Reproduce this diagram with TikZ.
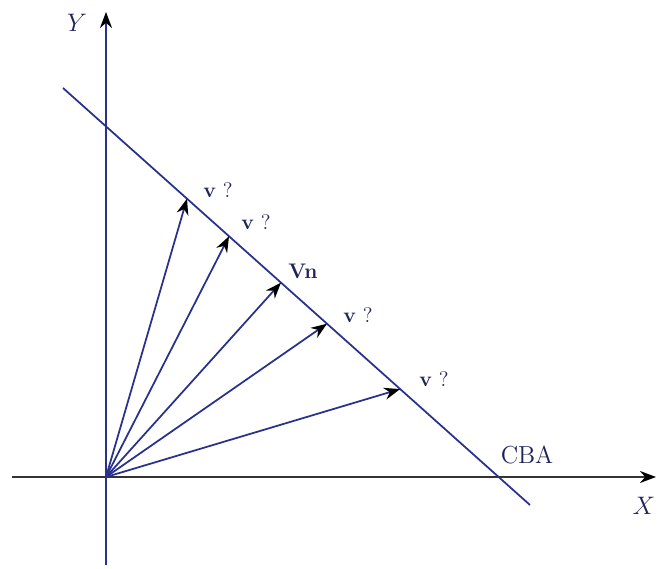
\documentclass[tikz,border=0pt]{standalone}
\usepackage{xcolor}
\usepackage{tikz}
\usetikzlibrary{arrows.meta,positioning,calc}

\definecolor{lineblue}{RGB}{40,50,140}
\definecolor{textblue}{RGB}{30,35,90}

\begin{document}
\begin{tikzpicture}[
    axis/.style={line width=1.2pt},
    vec/.style={lineblue, line width=1pt, -{Stealth[black, length=3.2mm, width=2.4mm]}},
    guess/.style={text=textblue, font=\fontsize{12}{14}\selectfont, inner sep=1pt},
    axlabel/.style={text=textblue, font=\fontsize{14}{16}\selectfont, inner sep=1pt}]

\useasboundingbox (-2.12,-1.84) rectangle (11.04,9.54);

% Origin and axes
\coordinate (o) at (0,0);
\coordinate (xstart) at (-1.88,0);
\coordinate (xend) at (11.0,0);
\coordinate (ystart) at (0,-1.76);
\coordinate (yend) at (0,9.30);
\draw[axis, black!80, -{Stealth[black, length=3.2mm, width=2.4mm]}] (xstart) -- (xend);
\draw[axis, lineblue, -{Stealth[black, length=3.2mm, width=2.4mm]}] (ystart) -- (yend);
\node[axlabel] (xlab) at (10.76,-0.58) {$X$};
\node[axlabel] (ylab) at (-0.58,9.08) {$Y$};

% Constraint line
\coordinate (ltop) at (-0.86,7.78);
\coordinate (lbot) at (8.48,-0.56);
\draw[lineblue, line width=1pt] (ltop) -- (lbot);
\node[axlabel] (cba) at (8.42,0.44) {CBA};

% Candidate vectors ending on the line
\coordinate (p1) at ($(ltop)!0.2655!(lbot)$);
\coordinate (p2) at ($(ltop)!0.3555!(lbot)$);
\coordinate (pn) at ($(ltop)!0.4668!(lbot)$);
\coordinate (p4) at ($(ltop)!0.5653!(lbot)$);
\coordinate (p5) at ($(ltop)!0.722!(lbot)$);
\foreach \p in {p1,p2,pn,p4,p5}
    \draw[vec] (o) -- (\p);

% Labels
\node[guess] (v1) at (2.24,5.74) {\textbf{v} ?};
\node[guess] (v2) at (3.00,5.10) {\textbf{v} ?};
\node[guess] (vn) at (3.94,4.12) {\textbf{Vn}};
\node[guess] (v4) at (5.04,3.24) {\textbf{v} ?};
\node[guess] (v5) at (6.56,1.96) {\textbf{v} ?};

\end{tikzpicture}
\end{document}
